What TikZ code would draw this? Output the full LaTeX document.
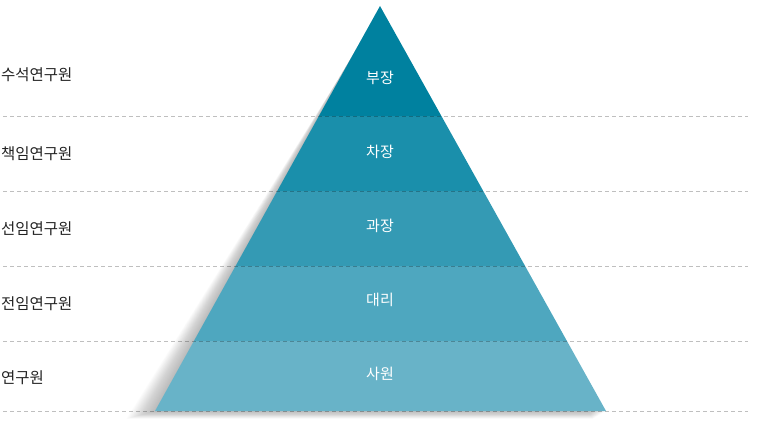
\documentclass[tikz,border=0pt]{standalone}
\usepackage{fontspec}
\setmainfont{Noto Sans CJK KR}
\usetikzlibrary{positioning}
\definecolor{bandA}{HTML}{00819F}
\definecolor{bandB}{HTML}{1A8FAB}
\definecolor{bandC}{HTML}{349AB4}
\definecolor{bandD}{HTML}{4EA7BF}
\definecolor{bandE}{HTML}{68B3C8}
\definecolor{labeltext}{HTML}{222222}

\begin{document}
\begin{tikzpicture}[x=1pt, y=-1pt,
    rank/.style={text=white, font=\fontsize{15}{17}\selectfont, inner sep=0pt},
    title/.style={anchor=west, text=labeltext, font=\fontsize{15.5}{18}\selectfont, inner sep=0pt},
    guide/.style={black, opacity=0.25, dash pattern=on 4pt off 3pt, line width=0.8pt}]
    \useasboundingbox (0, 0) rectangle (758, 430);

    % Shadow
    \foreach \i in {1,...,26}
        \fill[black, opacity=0.012] (380-0.6*\i, 6+1.2*\i) -- (155-1.1*\i, 411+0.3*\i) -- (606-0.5*\i, 411+0.3*\i) -- cycle;

    % Pyramid
    \begin{scope}
        \clip (380, 6) -- (155, 411) -- (606, 411) -- cycle;
        \fill[bandA] (150, 0) rectangle (610, 116.5);
        \fill[bandB] (150, 116.5) rectangle (610, 191.5);
        \fill[bandC] (150, 191.5) rectangle (610, 266.5);
        \fill[bandD] (150, 266.5) rectangle (610, 341.5);
        \fill[bandE] (150, 341.5) rectangle (610, 412);
    \end{scope}

    % Guides
    \foreach \y in {116.5, 191.5, 266.5, 341.5, 411}
        \draw[guide] (3, \y) -- (748, \y);

    % Ranks
    \node[rank] (bujang) at (380, 78) {부장};
    \node[rank] (chajang) at (380, 152) {차장};
    \node[rank] (gwajang) at (380, 226) {과장};
    \node[rank] (daeri) at (380, 300) {대리};
    \node[rank] (sawon) at (380, 374) {사원};

    % Titles
    \node[title] (suseok) at (1, 75) {수석연구원};
    \node[title] (chaegim) at (1, 154) {책임연구원};
    \node[title] (seonim) at (1, 229) {선임연구원};
    \node[title] (jeonim) at (1, 304) {전임연구원};
    \node[title] (yeongu) at (1, 378) {연구원};
\end{tikzpicture}
\end{document}
